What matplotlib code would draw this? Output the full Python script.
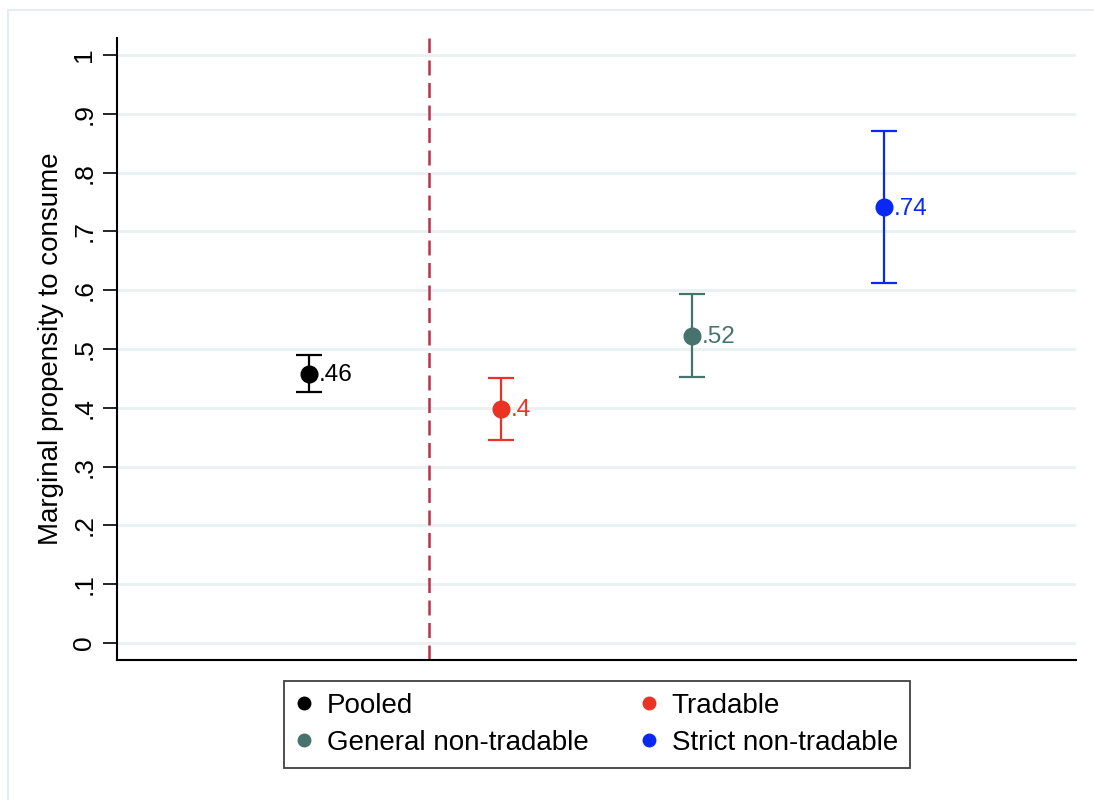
import matplotlib
matplotlib.use("Agg")
import matplotlib.pyplot as plt
from matplotlib.lines import Line2D
from matplotlib.patches import Rectangle

plt.rcParams['font.family'] = ['Liberation Sans', 'DejaVu Sans']

# estimates
groups = ["Pooled", "Tradable", "General non-tradable", "Strict non-tradable"]
xpos = [1, 2, 3, 4]
mpc = [0.458, 0.398, 0.522, 0.741]
ci_lo = [0.427, 0.345, 0.452, 0.613]
ci_hi = [0.490, 0.450, 0.593, 0.870]
labels = [".46", ".4", ".52", ".74"]
colors = ["#000000", "#ea3323", "#48736c", "#0a28f5"]
split_x = 1.625
yticks = [0, 0.1, 0.2, 0.3, 0.4, 0.5, 0.6, 0.7, 0.8, 0.9, 1.0]
ytick_labels = ["0", ".1", ".2", ".3", ".4", ".5", ".6", ".7", ".8", ".9", "1"]

fig = plt.figure(figsize=(10.94, 8), dpi=100)

# faint outer frame of the graph region (only top/left edges fall inside the image)
fig.patches.append(Rectangle((8 / 1094, -0.1), 1.2, 1.1 - 10 / 800 + 0.0,
                             transform=fig.transFigure, fill=False,
                             edgecolor="#e6edf0", lw=1.5, zorder=0))

ax = fig.add_axes([0.107, 0.175, 0.8765, 0.7775])

for y in yticks:
    ax.axhline(y, color="#eaf1f3", lw=2, zorder=0)

ax.axvline(split_x, color="#b8334a", lw=1.8, ls=(0, (6, 3)), zorder=1)

for x, m, lo, hi, lab, c in zip(xpos, mpc, ci_lo, ci_hi, labels, colors):
    ax.errorbar([x], [m], yerr=[[m - lo], [hi - m]], fmt="o", color=c,
                ms=12, elinewidth=1.6, capsize=9.5, capthick=1.6, zorder=3)
    ax.annotate(lab, (x, m), xytext=(7, -1), textcoords="offset points",
                va="center", ha="left", color=c, fontsize=17.5)

ax.set_xlim(0, 5)
ax.set_ylim(-0.029, 1.029)
ax.set_xticks([])
ax.set_yticks(yticks)
ax.set_yticklabels(ytick_labels, rotation=90, va="center", fontsize=19)
ax.tick_params(axis="y", length=10, width=1.2, pad=5)
ax.set_ylabel("Marginal propensity to consume", fontsize=20, labelpad=6)

for s in ["top", "right"]:
    ax.spines[s].set_visible(False)
for s in ["left", "bottom"]:
    ax.spines[s].set_linewidth(1.5)

# matplotlib fills legend column-wise; reorder so rows read Pooled/Tradable, General/Strict
order = [0, 2, 1, 3]
handles = [Line2D([], [], marker="o", ls="", color=colors[i], ms=9) for i in order]
leg = fig.legend(handles, [groups[i] for i in order], ncol=2, loc="center",
                 bbox_to_anchor=(0.5457, 0.0944), fontsize=20,
                 frameon=True, fancybox=False, edgecolor="#111111",
                 handletextpad=0.5, columnspacing=1.9, handlelength=0.6,
                 borderpad=0.42, labelspacing=0.4, borderaxespad=0)
leg.get_frame().set_linewidth(1.3)

fig.savefig("out.png", dpi=100)
